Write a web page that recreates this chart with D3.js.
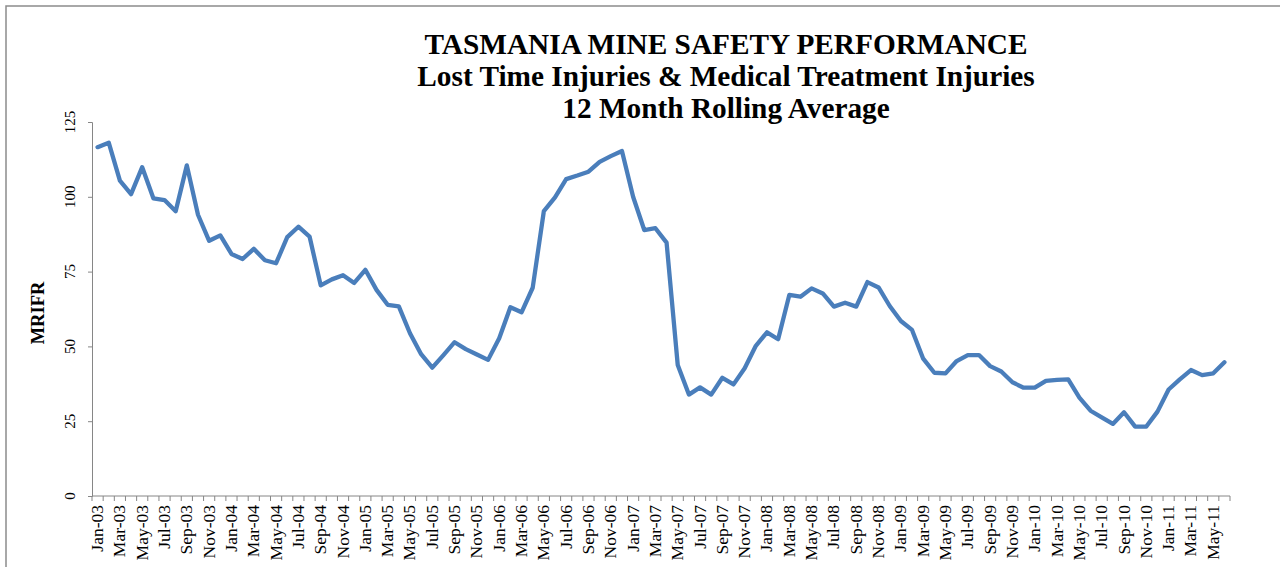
<!DOCTYPE html>
<html>
<head>
<meta charset="utf-8">
<script src="https://cdn.jsdelivr.net/npm/d3@7"></script>
<style>
  html, body { margin: 0; padding: 0; background: #fff; }
  svg { display: block; font-family: "Liberation Serif", "Times New Roman", serif; }
</style>
</head>
<body>
<svg id="chart" width="1280" height="567"></svg>
<script>
// month labels are built from these two
var monthNames = ["Jan", "Feb", "Mar", "Apr", "May", "Jun", "Jul", "Aug", "Sep", "Oct", "Nov", "Dec"]
var years = ["03", "04", "05", "06", "07", "08", "09", "10", "11"]
var lastMonthIndex = 5   // series stops at Jun-11

// MRIFR, 12 month rolling average, Jan-03 .. Jun-11
var mrifr = [
  116.6, 118.1, 105.4, 100.9, 109.9, 99.5, 98.9, 95.2, 110.5, 94.0, 85.3, 87.1,
  80.9, 79.2, 82.6, 78.8, 77.8, 86.5, 90.0, 86.7, 70.4, 72.4, 73.8, 71.2,
  75.6, 68.9, 63.9, 63.4, 54.4, 47.4, 42.9, 47.1, 51.4, 49.1, 47.3, 45.5,
  52.7, 63.1, 61.4, 69.6, 95.2, 99.8, 105.9, 107.1, 108.4, 111.7, 113.6, 115.3,
  100.0, 88.9, 89.5, 84.7, 43.8, 33.9, 36.3, 33.9, 39.5, 37.3, 42.7, 50.2,
  54.7, 52.4, 67.2, 66.6, 69.4, 67.7, 63.3, 64.6, 63.3, 71.5, 69.7, 63.5,
  58.5, 55.5, 45.9, 41.2, 41.0, 45.1, 47.1, 47.1, 43.4, 41.6, 38.0, 36.2,
  36.2, 38.5, 38.8, 39.0, 32.9, 28.5, 26.3, 24.1, 28.0, 23.2, 23.2, 28.2,
  35.6, 39.0, 42.1, 40.4, 41.0, 44.7
]
var yTicks = [0, 25, 50, 75, 100, 125]
var titleLines = ["TASMANIA MINE SAFETY PERFORMANCE",
                  "Lost Time Injuries & Medical Treatment Injuries",
                  "12 Month Rolling Average"]

var months = []
years.forEach(function(yy, yi) {
  monthNames.forEach(function(m, mi) {
    if (yi == years.length - 1 && mi > lastMonthIndex) return
    months.push(m + "-" + yy)
  })
})

var data = months.map(function(m, i) { return {month: m, value: mrifr[i]} })

var svg = d3.select("#chart")
var axisColor = "#868686"

// outer frame (runs off the right and bottom edge)
svg.append("rect")
   .attr("x", 6).attr("y", 6)
   .attr("width", 1400).attr("height", 700)
   .attr("fill", "none")
   .attr("stroke", "#8c8c8c")
   .attr("stroke-width", 1.5)

var x = d3.scaleBand().domain(months).range([92, 1230]).padding(0)
var y = d3.scaleLinear().domain([0, 125]).range([496, 122])

// title
svg.append("g").selectAll("text")
   .data(titleLines)
   .enter().append("text")
   .attr("x", 726)
   .attr("y", function(d, i) { return 54 + i * 32 })
   .attr("text-anchor", "middle")
   .attr("font-size", "29.3px")
   .attr("font-weight", "bold")
   .attr("fill", "#000")
   .text(function(d) { return d })

// y axis
var yAxis = svg.append("g")
   .attr("transform", "translate(92,0)")
   .call(d3.axisLeft(y).tickValues(yTicks).tickSize(4).tickFormat(""))
yAxis.selectAll("path, line").attr("stroke", axisColor)

svg.append("g").selectAll("text")
   .data(yTicks)
   .enter().append("text")
   .attr("transform", function(d) { return "translate(75," + y(d) + ") rotate(-90)" })
   .attr("text-anchor", "middle")
   .attr("font-size", "15px")
   .attr("fill", "#000")
   .text(function(d) { return d })

svg.append("text")
   .attr("transform", "translate(44,313) rotate(-90)")
   .attr("text-anchor", "middle")
   .attr("font-size", "18.5px")
   .attr("font-weight", "bold")
   .text("MRIFR")

// x axis: tick at every category boundary
var bw = x.bandwidth()
var xAxisG = svg.append("g")
xAxisG.append("line")
   .attr("x1", 92).attr("x2", 1230)
   .attr("y1", 496).attr("y2", 496)
   .attr("stroke", axisColor)
xAxisG.selectAll("line.tick")
   .data(d3.range(months.length + 1))
   .enter().append("line")
   .attr("class", "tick")
   .attr("x1", function(i) { return 92 + i * bw })
   .attr("x2", function(i) { return 92 + i * bw })
   .attr("y1", 496).attr("y2", 501)
   .attr("stroke", axisColor)

xAxisG.selectAll("text")
   .data(months.filter(function(m, i) { return i % 2 == 0 }))
   .enter().append("text")
   .attr("transform", function(d) {
     return "translate(" + (x(d) + bw / 2 + 5.5) + ",505) rotate(-90)"
   })
   .attr("text-anchor", "end")
   .attr("font-size", "17.5px")
   .attr("fill", "#000")
   .text(function(d) { return d })

// the line
var line = d3.line()
   .x(function(d) { return x(d.month) + bw / 2 })
   .y(function(d) { return y(d.value) })

svg.append("path")
   .datum(data)
   .attr("d", line)
   .attr("fill", "none")
   .attr("stroke", "#4a7ebb")
   .attr("stroke-width", 4.3)
   .attr("stroke-linejoin", "round")
   .attr("stroke-linecap", "round")
</script>
</body>
</html>
